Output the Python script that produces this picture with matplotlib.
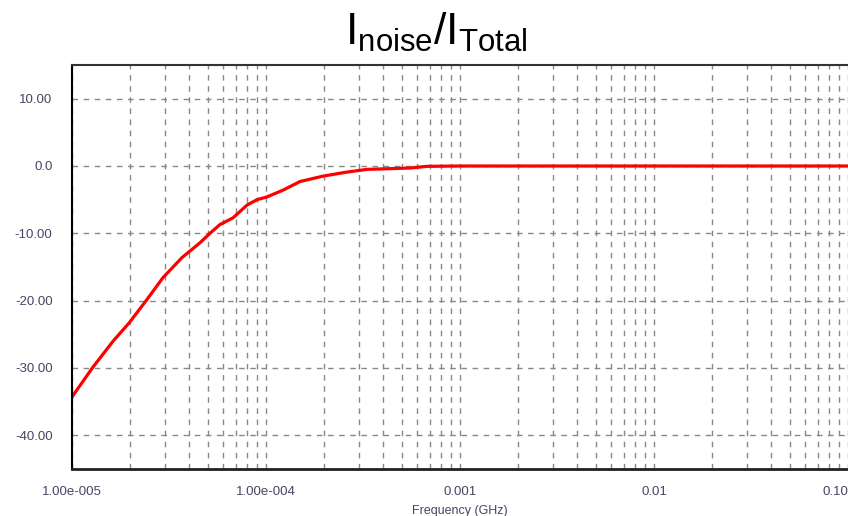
import numpy as np
import matplotlib
matplotlib.use("Agg")
import matplotlib.pyplot as plt
from matplotlib.ticker import FixedLocator, LogLocator, NullFormatter

# data
freq_ghz = [1.0e-5, 1.28e-5, 1.63e-5, 1.97e-5, 2.41e-5, 2.94e-5, 3.69e-5,
            4.57e-5, 5.14e-5, 5.79e-5, 6.76e-5, 7.99e-5, 8.99e-5, 1.01e-4,
            1.22e-4, 1.50e-4, 1.97e-4, 2.62e-4, 3.32e-4, 5.53e-4, 6.76e-4,
            1.0e-3, 1.0e-2, 1.0e-1]
ratio_db = [-34.3, -29.9, -26.0, -23.3, -20.0, -16.6, -13.6,
            -11.4, -10.0, -8.7, -7.7, -5.8, -5.0, -4.6,
            -3.6, -2.3, -1.5, -0.9, -0.5, -0.3, -0.05,
            0.0, 0.0, 0.0]

x_ticks = [1e-5, 1e-4, 1e-3, 1e-2, 1e-1]
x_labels = ["1.00e-005", "1.00e-004", "0.001", "0.01", "0.10"]
y_ticks = [10, 0, -10, -20, -30, -40]
y_labels = ["10.00", "0.0", "-10.00", "-20.00", "-30.00", "-40.00"]

plt.rcParams['font.family'] = ['Liberation Sans', 'DejaVu Sans']
plt.rcParams['mathtext.fontset'] = 'custom'
plt.rcParams['mathtext.rm'] = 'Liberation Sans'

fig = plt.figure(figsize=(8.48, 5.16), dpi=100)
ax = fig.add_axes([72 / 848, 1 - 469 / 516, 1 - 72 / 848, (469 - 65) / 516])

ax.plot(freq_ghz, ratio_db, color='#ff0000', lw=2.3, solid_joinstyle='round')

ax.set_xscale('log')
ax.set_xlim(1e-5, 1e-1)
ax.set_ylim(-45, 15)

ax.xaxis.set_major_locator(FixedLocator(x_ticks))
ax.set_xticklabels(x_labels)
ax.xaxis.set_minor_locator(LogLocator(base=10, subs=np.arange(2, 10)))
ax.xaxis.set_minor_formatter(NullFormatter())
ax.set_yticks(y_ticks)
ax.set_yticklabels(y_labels)

lab_col = '#454565'
ax.tick_params(axis='both', which='both', length=0, labelsize=9.5, labelcolor=lab_col)
ax.tick_params(axis='x', pad=12)
ax.tick_params(axis='y', pad=14)
# last label sits against the right edge
ax.get_xticklabels()[-1].set_horizontalalignment('right')

grid_kw = dict(color='#888888', lw=1.0, linestyle=(0, (4, 4)))
ax.grid(True, axis='x', which='both', **grid_kw)
ax.grid(True, axis='y', which='major', **grid_kw)

ax.spines['right'].set_visible(False)
ax.spines['left'].set_color('black')
ax.spines['left'].set_linewidth(1.5)
ax.spines['bottom'].set_color('#222222')
ax.spines['bottom'].set_linewidth(2)
ax.spines['top'].set_color('#333333')
ax.spines['top'].set_linewidth(1.5)

ax.set_xlabel("Frequency (GHz)", fontsize=9, color=lab_col, labelpad=5)

fig.text(436 / 848, 1 - 45 / 516, r'$\mathrm{I_{noise}/I_{Total}}$',
         fontsize=32, ha='center', va='baseline')

fig.savefig("out.png", dpi=100)
